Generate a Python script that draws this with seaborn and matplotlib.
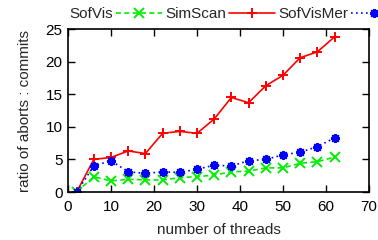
import matplotlib
matplotlib.use("Agg")
import matplotlib.pyplot as plt
import seaborn as sns
import pandas as pd

# data
threads = [2, 6, 10, 14, 18, 22, 26, 30, 34, 38, 42, 46, 50, 54, 58, 62]
sofvis = [0.0, 2.35, 1.7, 1.95, 1.85, 1.85, 2.2, 2.35, 2.6, 3.1, 3.2, 3.7, 3.7, 4.4, 4.65, 5.35]
simscan = [0.0, 5.0, 5.3, 6.3, 5.9, 9.0, 9.3, 9.0, 11.2, 14.5, 13.7, 16.3, 17.9, 20.6, 21.5, 23.8]
sofvismer = [0.0, 4.0, 4.8, 3.1, 2.85, 3.1, 3.0, 3.5, 4.1, 4.0, 4.8, 5.0, 5.7, 6.1, 6.95, 8.3]

series_names = ['SofVis', 'SimScan', 'SofVisMer']
series_colors = ['#00ee00', '#ff0000', '#0000ff']
series_markers = ['x', '+', (8, 2, 0)]
series_dashes = [(3, 2), '', (1, 2)]

sns.set_style("ticks")
plt.rcParams['font.family'] = ['Liberation Sans', 'DejaVu Sans']
plt.rcParams['font.size'] = 11

fig = plt.figure(figsize=(3.78, 2.4), dpi=100)
ax = fig.add_axes([0.180, 0.200, 0.796, 0.679])

for name, vals, col, mk, ds in zip(series_names, [sofvis, simscan, sofvismer],
                                   series_colors, series_markers, series_dashes):
    df = pd.DataFrame({'threads': threads, 'ratio': vals})
    sns.lineplot(data=df, x='threads', y='ratio', ax=ax, color=col, marker=mk,
                 markersize=6.5, markeredgewidth=1.4, markeredgecolor=col,
                 linewidth=1.2, label=name, sort=False,
                 dashes=False if ds == '' else True)
    if ds != '':
        ax.lines[-1].set_dashes(ds)

ax.set_xlim(0, 70)
ax.set_ylim(0, 25)
ax.set_xticks(range(0, 71, 10))
ax.set_yticks(range(0, 26, 5))
ax.tick_params(direction='in', top=True, right=True, length=5, width=1, labelsize=11,
               colors='black')
ax.tick_params(axis='x', pad=6)
ax.tick_params(axis='y', pad=4)
for s in ax.spines.values():
    s.set_linewidth(1.2)
    s.set_color('black')
ax.set_xlabel('number of threads', fontsize=11, labelpad=6)
ax.set_ylabel('ratio of aborts : commits', fontsize=11, labelpad=10)

ax.legend(loc='lower left', bbox_to_anchor=(-0.02, 1.0), ncol=3, frameon=False,
          markerfirst=False, handlelength=3.0, handletextpad=0.2, columnspacing=0.2,
          borderaxespad=0.1, fontsize=11)

fig.savefig('out.png', dpi=100)
